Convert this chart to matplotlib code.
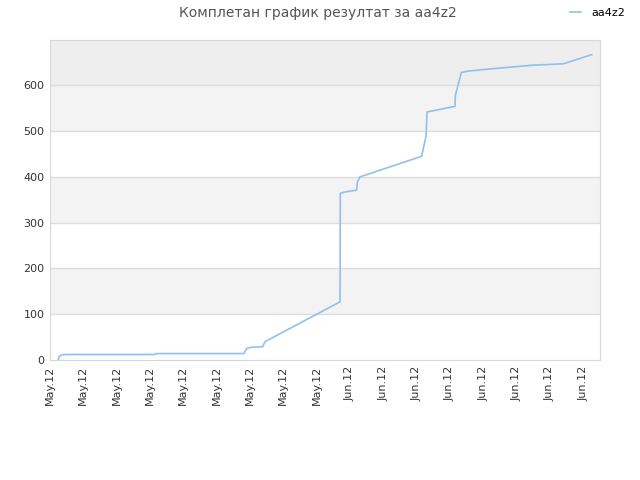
import matplotlib
matplotlib.use("Agg")
import matplotlib.pyplot as plt
from matplotlib.lines import Line2D

# x positions in tick units (one tick per label), y = score
xs = [0.25, 0.27, 0.35, 0.45, 3.15, 3.18, 5.82, 5.90, 6.05, 6.38, 6.45,
      8.70, 8.71, 8.85, 9.20, 9.22, 9.30, 11.15, 11.28, 11.31, 11.53,
      12.15, 12.16, 12.34, 12.54, 12.95, 13.70, 14.49, 15.40, 16.25]
ys = [0, 7, 11, 12, 12, 14, 14, 25, 28, 29, 40,
      127, 364, 367, 371, 389, 400, 445, 489, 542, 545,
      554, 578, 628, 631, 634, 639, 644, 647, 667]

tick_labels = ["May.12"] * 9 + ["Jun.12"] * 8
yticks = [0, 100, 200, 300, 400, 500, 600]

fig = plt.figure(figsize=(6.4, 4.8), dpi=100)
ax = fig.add_axes([50 / 640, 1 - 360 / 480, 550 / 640, 320 / 480])

# alternating background bands
bands = [(100, 200, "#f3f3f3"), (300, 400, "#f3f3f3"),
         (500, 600, "#f3f3f3"), (600, 700, "#eeeeee")]
for lo, hi, c in bands:
    ax.axhspan(lo, hi, color=c, zorder=0, lw=0)
for y in yticks[1:]:
    ax.axhline(y, color="#dddddd", lw=1, zorder=1)

ax.plot(xs, ys, color="#90c0f0", lw=1.2, zorder=3)

ax.set_xlim(0, 16.5)
ax.set_ylim(0, 699)
ax.set_xticks(range(len(tick_labels)))
ax.set_xticklabels(tick_labels, rotation=90, fontsize=8, color="#333333")
ax.set_yticks(yticks)
ax.set_yticklabels([str(v) for v in yticks], fontsize=8, color="#333333")
ax.tick_params(length=0, pad=4)
for s in ax.spines.values():
    s.set_color("#d8d8d8")

fig.text(0.497, 0.988, "Комплетан график резултат за аа4z2", ha="center", va="top",
         fontsize=10, color="#555555")

handle = Line2D([], [], color="#90c0f0", lw=1.2)
fig.legend([handle], ["aa4z2"], loc="upper right", bbox_to_anchor=(0.992, 1.005),
           frameon=False, fontsize=8, handlelength=1.0, handletextpad=0.9)

fig.savefig("out.png", dpi=100)
